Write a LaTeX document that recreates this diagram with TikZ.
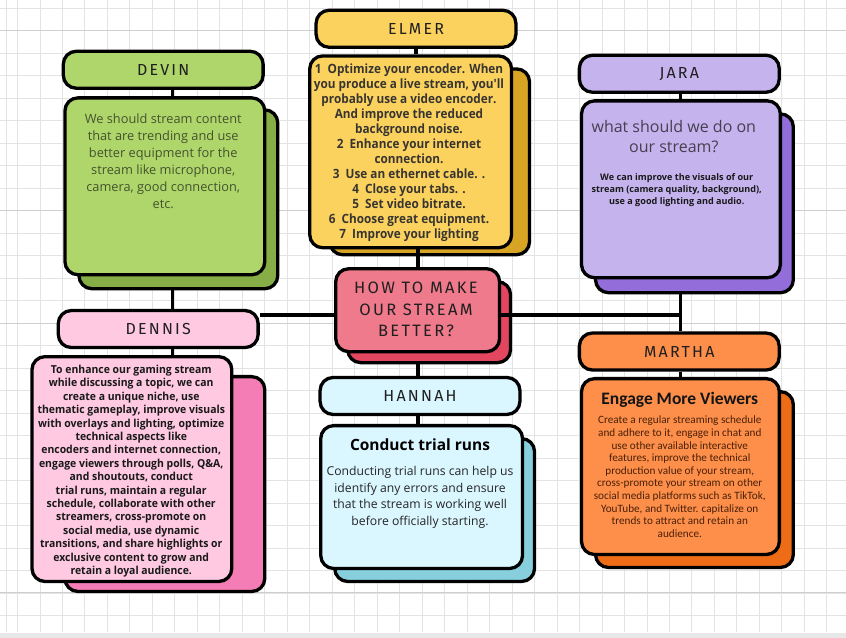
\documentclass[tikz,border=0pt]{standalone}
\usepackage{fontspec}
\setmainfont{Open Sans}
\newfontfamily\titlefont[LetterSpace=14]{Fira Sans}
\newfontfamily\elmerfont[FakeStretch=0.92]{Open Sans}
\newfontfamily\dennfont[FakeStretch=0.95]{Open Sans}
\newfontfamily\carlitofont{Carlito}
\definecolor{devinF}{HTML}{AFD66A}
\definecolor{devinB}{HTML}{86AD46}
\definecolor{elmerF}{HTML}{FCD25F}
\definecolor{elmerB}{HTML}{D8A423}
\definecolor{jaraF}{HTML}{C5B3EE}
\definecolor{jaraB}{HTML}{936EDB}
\definecolor{centF}{HTML}{EE7A8C}
\definecolor{centB}{HTML}{E3465F}
\definecolor{dennF}{HTML}{FEC9E1}
\definecolor{dennB}{HTML}{F57DB5}
\definecolor{hannF}{HTML}{DAF6FE}
\definecolor{hannB}{HTML}{88CFDE}
\definecolor{martF}{HTML}{FD8F4A}
\definecolor{martB}{HTML}{EF6C17}
\definecolor{devinTxt}{HTML}{44532F}
\definecolor{jaraTxt}{HTML}{45404F}
\definecolor{martTxt}{HTML}{4A2008}
\begin{document}
\begin{tikzpicture}[x=1pt,y=-1pt,
  box/.style={draw=black, line width=3.3pt, rounded corners=13pt, inner sep=0pt, anchor=north west},
  lbl/.style={draw=black, line width=3.3pt, rounded corners=13pt, minimum width=200pt, minimum height=37pt, inner sep=0pt, font=\titlefont\fontsize{16}{16}\selectfont, text=black!88},
  conn/.style={line width=3.3pt, black},
  txt/.style={align=center, inner sep=0pt, anchor=north}
]
% background paper
\fill[white] (0,0) rectangle (846,638);
\foreach \x in {6,17,39.5,...,846} \draw[gray!22, line width=0.6pt] (\x,0) -- (\x,632);
\foreach \y in {8,30.5,...,632} \draw[gray!22, line width=0.6pt] (0,\y) -- (846,\y);
\foreach \y in {30.5,210.5,323,593} \draw[gray!38, line width=0.7pt] (0,\y) -- (846,\y);
\fill[gray!18] (0,633) rectangle (846,638);
\useasboundingbox (0,0) rectangle (846,638);

% coordinates for connector columns
\coordinate (cx1) at (172,315);
\coordinate (cx2) at (418,315);
\coordinate (cx3) at (681,315);

% DEVIN
\node[lbl, fill=devinF] (devinT) at (163,69.5) {DEVIN};
\node[box, fill=devinB, minimum width=199pt, minimum height=179pt] (devinBk) at (77,108) {};
\node[box, fill=devinF, minimum width=200pt, minimum height=177pt] (devinFr) at (63,96) {};
\node[txt, text=devinTxt, font=\fontsize{12.8}{17}\selectfont] (devinTx) at (163,113)
  {We should stream content\\that are trending and use\\better equipment for the\\stream like microphone,\\camera, good connection,\\etc.};

% ELMER
\node[lbl, fill=elmerF] (elmerT) at (416,28.5) {ELMER};
\node[box, fill=elmerB, minimum width=200pt, minimum height=186pt] (elmerBk) at (328,67) {};
\node[box, fill=elmerF, minimum width=202pt, minimum height=192pt] (elmerFr) at (308,54) {};
\node[txt, text=black!90!yellow, font=\elmerfont\bfseries\fontsize{12.8}{15}\selectfont] (elmerTx) at (409,63.5)
  {1\ \ Optimize your encoder. When\\you produce a live stream, you'll\\probably use a video encoder.\\And improve the reduced\\background noise.\\2\ \ Enhance your internet\\connection.\\3\ \ Use an ethernet cable. .\\4\ \ Close your tabs. .\\5\ \ Set video bitrate.\\6\ \ Choose great equipment.\\7\ \ Improve your lighting};

% JARA
\node[lbl, fill=jaraF] (jaraT) at (679.5,73.5) {JARA};
\node[box, fill=jaraB, minimum width=198pt, minimum height=179pt] (jaraBk) at (594,112) {};
\node[box, fill=jaraF, minimum width=199pt, minimum height=177pt] (jaraFr) at (580,99) {};
\node[txt, text=jaraTxt, font=\fontsize{16}{20}\selectfont] (jaraQ) at (674,120)
  {what should we do on\\our stream?};
\node[txt, text=black!90, font=\bfseries\fontsize{9.1}{12}\selectfont] (jaraTx) at (677,173)
  {We can improve the visuals of our\\stream (camera quality, background),\\use a good lighting and audio.};

% CENTER
\node[box, fill=centB, minimum width=163pt, minimum height=81pt] (centBk) at (346,280) {};
\node[box, fill=centF, minimum width=164pt, minimum height=83pt] (centFr) at (334,267) {};
\node[txt, text=black!88, font=\titlefont\fontsize{16.5}{21.5}\selectfont] (centTx) at (416,282)
  {HOW TO MAKE\\OUR STREAM\\BETTER?};

% DENNIS
\node[lbl, fill=dennF] (dennT) at (158,329) {DENNIS};
\node[box, fill=dennB, minimum width=200pt, minimum height=215pt] (dennBk) at (63,375) {};
\node[box, fill=dennF, minimum width=200pt, minimum height=225pt] (dennFr) at (30,355) {};
\node[txt, text=black!90, font=\dennfont\bfseries\fontsize{11}{13.4}\selectfont] (dennTx) at (131,365)
  {To enhance our gaming stream\\while discussing a topic, we can\\create a unique niche, use\\thematic gameplay, improve visuals\\with overlays and lighting, optimize\\technical aspects like\\encoders and internet connection,\\engage viewers through polls, Q\&A,\\and shoutouts, conduct\\trial runs, maintain a regular\\schedule, collaborate with other\\streamers, cross-promote on\\social media, use dynamic\\transitions, and share highlights or\\exclusive content to grow and\\retain a loyal audience.};

% HANNAH
\node[lbl, fill=hannF] (hannT) at (420,396) {HANNAH};
\node[box, fill=hannB, minimum width=200pt, minimum height=143pt] (hannBk) at (333,437) {};
\node[box, fill=hannF, minimum width=202pt, minimum height=143pt] (hannFr) at (319,424) {};
\node[txt, text=black, font=\bfseries\fontsize{15.5}{17}\selectfont] (hannH) at (420,439) {Conduct trial runs};
\node[txt, text=black!85, font=\fontsize{12.2}{16.7}\selectfont] (hannTx) at (420,466)
  {Conducting trial runs can help us\\identify any errors and ensure\\that the stream is working well\\before officially starting.};

% MARTHA
\node[lbl, fill=martF] (martT) at (679.5,351.5) {MARTHA};
\node[box, fill=martB, minimum width=198pt, minimum height=176pt] (martBk) at (594,390) {};
\node[box, fill=martF, minimum width=198pt, minimum height=176pt] (martFr) at (580,377) {};
\node[txt, text=black!92, font=\carlitofont\bfseries\fontsize{17.5}{18}\selectfont] (martH) at (680,392) {Engage More Viewers};
\node[txt, text=martTxt, font=\carlitofont\fontsize{11.2}{12.6}\selectfont] (martTx) at (680,416)
  {Create a regular streaming schedule\\and adhere to it, engage in chat and\\use other available interactive\\features, improve the technical\\production value of your stream,\\cross-promote your stream on other\\social media platforms such as TikTok,\\YouTube, and Twitter. capitalize on\\trends to attract and retain an\\audience.};

% connectors
\draw[conn] (devinT.south -| cx1) -- (devinFr.north -| cx1);
\draw[conn] (devinBk.south -| cx1) -- (dennT.north -| cx1);
\draw[conn] (dennT.south -| cx1) -- (dennFr.north -| cx1);
\draw[conn] (dennT.east |- cx1) -- (centFr.west |- cx1);
\draw[conn] (elmerT.south) -- (elmerFr.north -| elmerT.south);
\draw[conn] (elmerFr.south -| cx2) -- (centFr.north -| cx2);
\draw[conn] (centBk.south -| cx2) -- (hannT.north -| cx2);
\draw[conn] (hannT.south -| cx2) -- (hannFr.north -| cx2);
\draw[conn] (centFr.east |- cx3) -- (cx3);
\draw[conn] (jaraT.south -| cx3) -- (jaraFr.north -| cx3);
\draw[conn] (jaraBk.south -| cx3) -- (martT.north -| cx3);
\draw[conn] (martT.south -| cx3) -- (martFr.north -| cx3);
\end{tikzpicture}
\end{document}
